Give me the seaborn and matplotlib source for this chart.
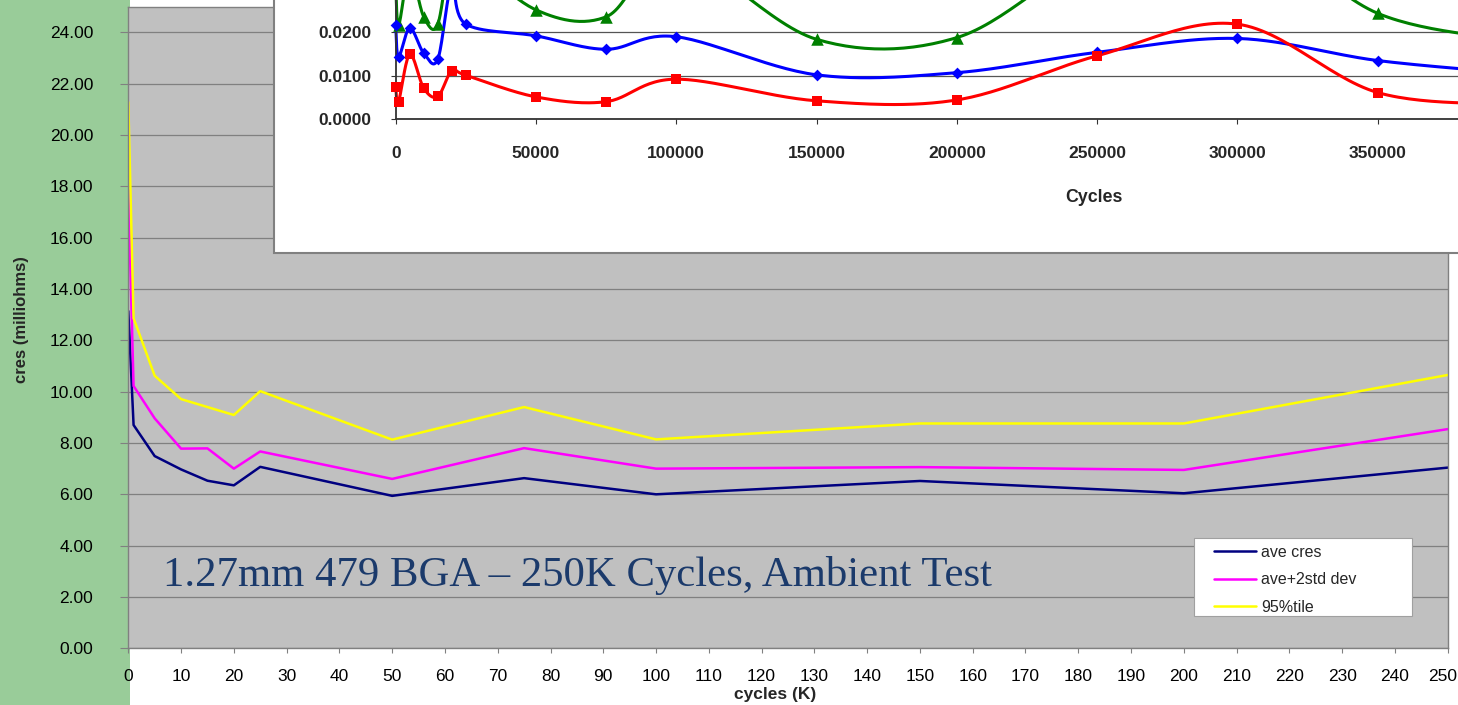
import numpy as np
import pandas as pd
import matplotlib
matplotlib.use("Agg")
import matplotlib.pyplot as plt
import seaborn as sns
from matplotlib.patches import Rectangle
from matplotlib.ticker import FormatStrFormatter
from matplotlib.transforms import ScaledTranslation

# ---------------- main chart data ----------------
cycles_k = [0, 1, 5, 10, 15, 20, 25, 50, 75, 100, 150, 200, 250]
ave_cres = [13.14, 8.70, 7.49, 6.97, 6.53, 6.35, 7.07, 5.94, 6.63, 6.00, 6.52, 6.04, 7.04]
ave_2std = [17.85, 10.22, 8.96, 7.78, 7.79, 7.00, 7.67, 6.60, 7.80, 7.00, 7.06, 6.95, 8.54]
pct95 = [21.28, 12.86, 10.62, 9.71, 9.40, 9.09, 10.02, 8.13, 9.40, 8.14, 8.76, 8.76, 10.65]
series_names = ["ave cres", "ave+2std dev", "95%tile"]
series_colors = ["#000080", "#FF00FF", "#FFFF00"]
main_xticks = list(range(0, 251, 10))
main_yticks = list(range(0, 25, 2))
title_text = "1.27mm 479 BGA \u2013 250K Cycles, Ambient Test"

# ---------------- inset chart data ----------------
inset_cycles = [0, 1000, 5000, 10000, 15000, 20000, 25000, 50000, 75000,
                100000, 150000, 200000, 250000, 300000, 350000, 400000]
inset_red = [0.0075, 0.0040, 0.0149, 0.0071, 0.0052, 0.0112, 0.0101, 0.0051,
             0.0040, 0.0092, 0.0042, 0.0044, 0.0146, 0.0219, 0.0061, 0.0034]
inset_blue = [0.0217, 0.0143, 0.0210, 0.0152, 0.0138, 0.0310, 0.0219, 0.0192,
              0.0161, 0.0190, 0.0102, 0.0107, 0.0154, 0.0186, 0.0135, 0.0105]
inset_green = [0.0330, 0.0217, 0.0340, 0.0236, 0.0219, 0.0400, 0.0380, 0.0252,
               0.0236, 0.0380, 0.0184, 0.0188, 0.0380, 0.0450, 0.0244, 0.0180]
inset_xticks = [0, 50000, 100000, 150000, 200000, 250000, 300000, 350000]
inset_yticks = [0.0, 0.01, 0.02]


def excel_smooth(xs, ys, n=30):
    """Excel-style smoothed line (Bezier through the data points)."""
    P = np.column_stack([xs, ys]).astype(float)
    m = len(P)
    out = [P[0]]
    t = np.linspace(0, 1, n)[1:, None]
    for i in range(m - 1):
        p0 = P[max(i - 1, 0)]
        p1 = P[i]
        p2 = P[i + 1]
        p3 = P[min(i + 2, m - 1)]
        c1 = p1 + (p2 - p0) / 6.0
        c2 = p2 - (p3 - p1) / 6.0
        seg = (1 - t) ** 3 * p1 + 3 * (1 - t) ** 2 * t * c1 + 3 * (1 - t) * t ** 2 * c2 + t ** 3 * p2
        out.extend(seg)
    out = np.array(out)
    return out[:, 0], out[:, 1]


sns.set_style("white")
plt.rcParams["font.family"] = ["Liberation Sans", "DejaVu Sans"]

W, H = 1458, 705
fig = plt.figure(figsize=(W / 100, H / 100), dpi=100)
fig.patch.set_facecolor("white")

# green strip on the left
fig.add_artist(Rectangle((0, 0), 130 / W, 1, transform=fig.transFigure,
                         facecolor="#99CC99", edgecolor="none", zorder=-1))

# ---------------- main axes ----------------
ax = fig.add_axes([128.3 / W, (H - 648.3) / H, 1319.4 / W, 641.6 / H], zorder=0)
ax.set_facecolor("#C0C0C0")

df = pd.DataFrame({
    "cycles": cycles_k * 3,
    "cres": ave_cres + ave_2std + pct95,
    "series": [s for s in series_names for _ in cycles_k],
})
sns.lineplot(data=df, x="cycles", y="cres", hue="series", hue_order=series_names,
             palette=dict(zip(series_names, series_colors)), ax=ax,
             linewidth=1.8, estimator=None, sort=False)

ax.set_xlim(0, 250)
ax.set_ylim(0, 25)
ax.set_xticks(main_xticks)
ax.set_yticks(main_yticks)
ax.yaxis.set_major_formatter(FormatStrFormatter("%.2f"))
ax.grid(axis="y", color="#808080", linewidth=0.9)
ax.grid(axis="x", visible=False)
ax.set_axisbelow(True)
for sp in ax.spines.values():
    sp.set_color("#808080")
    sp.set_linewidth(1.0)
    sp.set_visible(True)
ax.tick_params(axis="x", direction="out", length=3.6, width=0.8, color="#808080",
               pad=11, labelsize=12.5, labelcolor="black", bottom=True)
ax.tick_params(axis="y", direction="out", length=5.8, width=0.8, color="#808080",
               pad=19.4, labelsize=12.5, labelcolor="black", left=True)
# keep the last x label inside the picture, as in the reference
last_lbl = ax.get_xticklabels()[-1]
last_lbl.set_transform(last_lbl.get_transform() + ScaledTranslation(-0.05, 0, fig.dpi_scale_trans))

ax.set_xlabel("cycles (K)", fontsize=12.5, fontweight="bold")
ax.xaxis.set_label_coords(0.490, -0.0725)
ax.xaxis.label.set_va("center")
ax.set_ylabel("cres (milliohms)", fontsize=12, fontweight="bold")
ax.yaxis.set_label_coords(-0.0808, 0.512)
ax.yaxis.label.set_va("center")

ax.text(0.0263, 0.0971, title_text, transform=ax.transAxes, fontsize=30.8,
        family=["Liberation Serif", "DejaVu Serif"], color="#1B3A6B",
        ha="left", va="baseline")

# legend with a manual frame
old = ax.get_legend()
handles = old.legend_handles
labels = [t.get_text() for t in old.get_texts()]
old.remove()
ax.add_patch(Rectangle(((1194 - 128.3) / 1319.4, (648.3 - 616) / 641.6),
                       (1412 - 1194) / 1319.4, (616 - 538) / 641.6,
                       transform=ax.transAxes, facecolor="white",
                       edgecolor="#A0A0A0", linewidth=0.8, zorder=5))
leg = ax.legend(handles, labels, loc="upper left",
                bbox_to_anchor=((1214 - 128.3) / 1319.4, (648.3 - 545) / 641.6),
                frameon=False, fontsize=11.5, handlelength=2.6, handletextpad=0.33,
                labelspacing=0.78, borderpad=0, borderaxespad=0)
leg.set_zorder(6)
for h in leg.legend_handles:
    h.set_linewidth(1.8)

# ---------------- inset chart ----------------
fig.add_artist(Rectangle((273.5 / W, (H - 252.5) / H), 1.0, 0.5, transform=fig.transFigure,
                         facecolor="white", edgecolor="#808080", linewidth=1.5, zorder=1))

ax_in = fig.add_axes([395.7 / W, (H - 119) / H, (W - 395.7) / W, 119 / H], zorder=2)
ax_in.set_facecolor("none")

inset_series = [
    (inset_green, "#008000", "^", 9.0),
    (inset_blue, "#0000FF", "D", 6.0),
    (inset_red, "#FF0000", "s", 7.2),
]
for ys, color, marker, ms in inset_series:
    sx, sy = excel_smooth(inset_cycles, ys)
    sns.lineplot(x=sx, y=sy, ax=ax_in, color=color, linewidth=2.2,
                 sort=False, estimator=None, legend=False)
    sns.scatterplot(x=inset_cycles, y=ys, ax=ax_in, color=color, marker=marker,
                    s=ms ** 2, linewidth=0, legend=False, zorder=3)

for art in list(ax_in.lines) + list(ax_in.collections):
    art.set_clip_on(False)

ax_in.set_xlim(0, (W - 395.7) / 140.3 * 50000)
ax_in.set_ylim(0, 119 / 43.3 * 0.01)
ax_in.set_xticks(inset_xticks)
ax_in.set_xticklabels([str(v) for v in inset_xticks])
ax_in.set_yticks(inset_yticks)
ax_in.set_yticklabels([f"{v:.4f}" for v in inset_yticks])
for lbl in ax_in.get_xticklabels() + ax_in.get_yticklabels():
    lbl.set_fontweight("bold")
ax_in.grid(axis="y", color="#555555", linewidth=0.9)
ax_in.grid(axis="x", visible=False)
ax_in.set_axisbelow(True)
ax_in.spines["top"].set_visible(False)
ax_in.spines["right"].set_visible(False)
for s in ("left", "bottom"):
    ax_in.spines[s].set_visible(True)
    ax_in.spines[s].set_color("#333333")
    ax_in.spines[s].set_linewidth(1.3)
ax_in.tick_params(axis="x", direction="out", length=3.6, width=0.8, color="#333333",
                  pad=16, labelsize=12.5, bottom=True)
ax_in.tick_params(axis="y", direction="out", length=3.6, width=0.8, color="#333333",
                  pad=13.7, labelsize=12.5, left=True)
ax_in.set_xlabel("Cycles", fontsize=12.8, fontweight="bold")
ax_in.xaxis.set_label_coords((1094 - 395.7) / (W - 395.7), -(197 - 119) / 119)
ax_in.xaxis.label.set_va("center")
ax_in.set_ylabel("")

fig.savefig("out.png", dpi=100)
